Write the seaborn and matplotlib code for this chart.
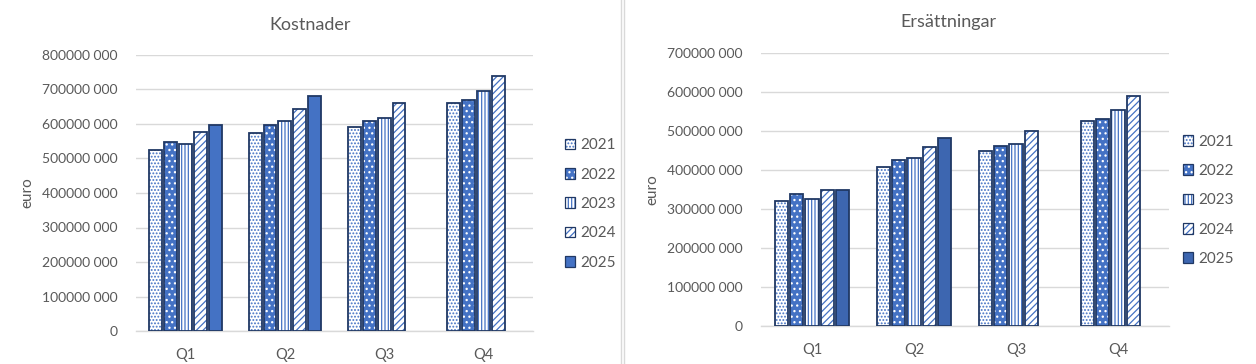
import numpy as np
import pandas as pd
import matplotlib
matplotlib.use("Agg")
import matplotlib.pyplot as plt
import matplotlib.patches as mpatches
import matplotlib.lines as mlines
import matplotlib.ticker as mticker
from matplotlib.legend_handler import HandlerTuple
import seaborn as sns

# ── Data ──────────────────────────────────────────────────────────────────────
quarters = ["Q1", "Q2", "Q3", "Q4"]
years = ["2021", "2022", "2023", "2024", "2025"]

kost_2021 = [524e6, 573e6, 590e6, 660e6]
kost_2022 = [547e6, 596e6, 608e6, 669e6]
kost_2023 = [541e6, 608e6, 617e6, 695e6]
kost_2024 = [576e6, 643e6, 660e6, 738e6]
kost_2025 = [596e6, 680e6, np.nan, np.nan]

ers_2021 = [320e6, 407e6, 448e6, 525e6]
ers_2022 = [338e6, 425e6, 461e6, 530e6]
ers_2023 = [325e6, 430e6, 466e6, 553e6]
ers_2024 = [350e6, 458e6, 499e6, 589e6]
ers_2025 = [348e6, 481e6, np.nan, np.nan]

kost_ticks = np.arange(0, 800e6 + 1, 100e6)
ers_ticks = np.arange(0, 700e6 + 1, 100e6)

# ── Styles ────────────────────────────────────────────────────────────────────
BLUE = "#4472C4"
NAVY = "#203864"
GRID = "#D9D9D9"
TEXT = "#595959"

# year -> (face, hatch, hatch colour)
STYLES = {
    "2021": ("white", ".....", BLUE),
    "2022": (BLUE, "...", "white"),
    "2023": ("white", "|||||", BLUE),
    "2024": ("white", "/////", BLUE),
    "2025": (BLUE, "", BLUE),
}

plt.rcParams["font.family"] = ["Lato", "DejaVu Sans"]
plt.rcParams["hatch.linewidth"] = 0.9


def long_df(series):
    rows = []
    for y, vals in zip(years, series):
        for q, v in zip(quarters, vals):
            rows.append({"quarter": q, "year": y, "value": v})
    return pd.DataFrame(rows)


def fmt(v, _pos=None):
    if v == 0:
        return "0"
    s = f"{int(round(v)):d}"
    return s[:-3] + " " + s[-3:]


def draw(ax, df, ticks, solid_color):
    sns.barplot(data=df, x="quarter", y="value", hue="year", order=quarters,
                hue_order=years, ax=ax, width=0.75, gap=0.14, legend=False,
                errorbar=None)
    for year, cont in zip(years, ax.containers):
        face, hatch, hcol = STYLES[year]
        if year == "2025":
            face = hcol = solid_color
        for p in cont.patches:
            p.set_facecolor(face)
            p.set_hatch(hatch)
            p.set_edgecolor(hcol)
            p.set_linewidth(0)
            ax.add_patch(mpatches.Rectangle(
                p.get_xy(), p.get_width(), p.get_height(),
                facecolor="none", edgecolor=NAVY, linewidth=1.3, zorder=3))

    ax.set_ylim(0, ticks[-1])
    ax.set_yticks(ticks)
    ax.yaxis.set_major_formatter(mticker.FuncFormatter(fmt))
    ax.set_axisbelow(True)
    ax.grid(axis="y", color=GRID, linewidth=1)
    for s in ["top", "right", "left"]:
        ax.spines[s].set_visible(False)
    ax.spines["bottom"].set_color(GRID)
    ax.spines["bottom"].set_linewidth(1)
    ax.tick_params(axis="both", length=0, colors=TEXT, labelsize=10.5)
    ax.tick_params(axis="y", labelsize=10, pad=13)
    ax.tick_params(axis="x", pad=12)
    ax.set_xlabel("")
    ax.set_ylabel("euro", fontsize=11, color=TEXT)

    handles = []
    for year in years:
        face, hatch, hcol = STYLES[year]
        if year == "2025":
            face = hcol = solid_color
        fill = mpatches.Patch(facecolor=face, hatch=hatch, edgecolor=hcol,
                              linewidth=0)
        edge = mpatches.Patch(facecolor="none", edgecolor=NAVY, linewidth=0.9)
        handles.append((fill, edge))
    return handles


def add_legend(ax, handles, x):
    ax.legend(handles=handles, labels=years, loc="center left",
              bbox_to_anchor=(x, 0.46), frameon=False, fontsize=11,
              labelcolor=TEXT, handlelength=0.7, handleheight=0.7,
              handletextpad=0.35, labelspacing=1.0,
              handler_map={tuple: HandlerTuple(ndivide=1, pad=0)})


fig = plt.figure(figsize=(12.56, 3.64), dpi=100)

ax1 = fig.add_axes([136 / 1256, 1 - 331 / 364, 397 / 1256, 276 / 364])
h1 = draw(ax1, long_df([kost_2021, kost_2022, kost_2023, kost_2024, kost_2025]),
          kost_ticks, BLUE)
ax1.yaxis.set_label_coords(-0.255, 0.5)
add_legend(ax1, h1, 1.045)
fig.text(310 / 1256, 1 - 25 / 364, "Kostnader", ha="center", va="center",
         fontsize=13, color=TEXT)

ax2 = fig.add_axes([761 / 1256, 1 - 326 / 364, 408 / 1256, 273 / 364])
h2 = draw(ax2, long_df([ers_2021, ers_2022, ers_2023, ers_2024, ers_2025]),
          ers_ticks, "#3D66B0")
ax2.yaxis.set_label_coords(-0.25, 0.5)
add_legend(ax2, h2, 1.0)
fig.text(948 / 1256, 1 - 22 / 364, "Ersättningar", ha="center", va="center",
         fontsize=13, color=TEXT)

# chart separator
for xp in (621, 624):
    fig.add_artist(mlines.Line2D([xp / 1256, xp / 1256], [0, 1],
                                 transform=fig.transFigure, color=GRID, lw=1))

fig.savefig("out.png", dpi=100)
